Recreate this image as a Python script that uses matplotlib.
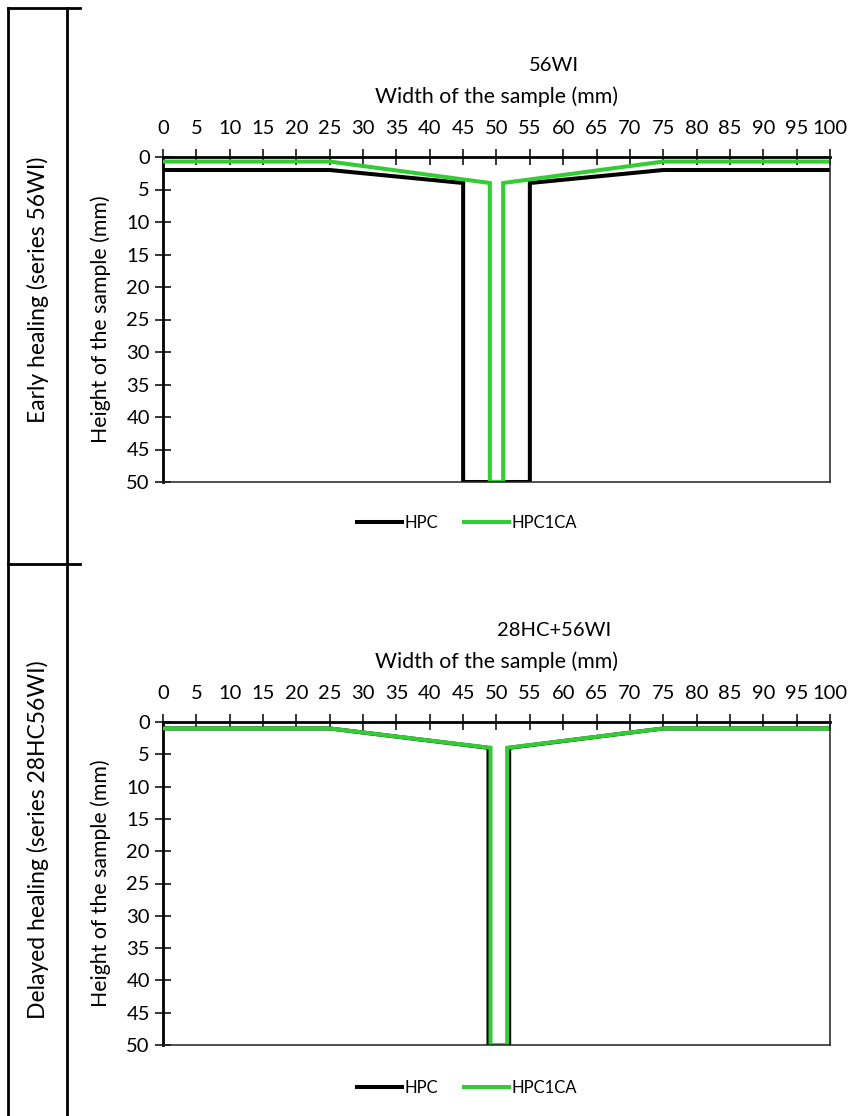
import matplotlib.pyplot as plt
from matplotlib.lines import Line2D
import numpy as np

plt.rcParams['font.family'] = ['Lato', 'DejaVu Sans']

# crack profiles (width position in mm, depth in mm)
hpc_56_x = [0, 25, 45, 45, 55, 55, 75, 100]
hpc_56_y = [2, 2, 4, 50, 50, 4, 2, 2]
hpc1ca_56_x = [0, 25, 49, 49, 51, 51, 75, 100]
hpc1ca_56_y = [0.7, 0.7, 4, 50, 50, 4, 0.7, 0.7]

hpc_28_x = [0, 25, 48.8, 48.8, 51.9, 51.9, 75, 100]
hpc_28_y = [1, 1, 4, 50, 50, 4, 1, 1]
hpc1ca_28_x = [0, 25, 49.1, 49.1, 51.6, 51.6, 75, 100]
hpc1ca_28_y = [1, 1, 4, 50, 50, 4, 1, 1]

titles = ['56WI', '28HC+56WI']
row_labels = ['Early healing (series 56WI)', 'Delayed healing (series 28HC56WI)']
x_ticks = list(range(0, 101, 5))
y_ticks = list(range(0, 51, 5))

W, H = 862, 1116
fig = plt.figure(figsize=(W / 100, H / 100), dpi=100)

green = '#33cc33'
fs = 14.5


def make_panel(rect, title, hx, hy, gx, gy, legend_y):
    ax = fig.add_axes(rect)
    ax.plot(hx, hy, color='black', lw=2.9, solid_joinstyle='miter', label='HPC')
    ax.plot(gx, gy, color=green, lw=2.9, solid_joinstyle='miter', label='HPC1CA')
    ax.set_xlim(0, 100)
    ax.set_ylim(50, 0)
    ax.set_xticks(x_ticks)
    ax.set_yticks(y_ticks)
    ax.xaxis.tick_top()
    ax.xaxis.set_label_position('top')
    ax.tick_params(axis='both', direction='inout', length=11, width=1.1,
                   labelsize=fs, color='black')
    ax.tick_params(axis='x', pad=9)
    ax.tick_params(axis='y', pad=4)
    for s in ['top', 'left']:
        ax.spines[s].set_linewidth(2.0)
        ax.spines[s].set_color('black')
        ax.spines[s].set_zorder(1)
    for s in ['bottom', 'right']:
        ax.spines[s].set_linewidth(1.1)
        ax.spines[s].set_color('#222222')
    ax.set_xlabel('Width of the sample (mm)', fontsize=15.3, labelpad=12)
    ax.set_ylabel('Height of the sample (mm)', fontsize=15.3, labelpad=11)
    ax.set_title(title, fontsize=14.5, pad=11, x=(554 - 163) / 667)
    fig.legend(*ax.get_legend_handles_labels(), loc='center',
               bbox_to_anchor=(467 / W, 1 - legend_y / H), ncol=2, frameon=False,
               fontsize=12, handlelength=2.7, columnspacing=1.5, handletextpad=0.2)
    return ax


left = 163 / W
width = 667 / W
make_panel([left, 1 - 482 / H, width, 325 / H], titles[0],
           hpc_56_x, hpc_56_y, hpc1ca_56_x, hpc1ca_56_y, 523)
make_panel([left, 1 - 1045 / H, width, 323 / H], titles[1],
           hpc_28_x, hpc_28_y, hpc1ca_28_x, hpc1ca_28_y, 1088)

# table frame around the row labels
frame_lw = 2.0
fig.add_artist(Line2D([8 / W, 8 / W], [0, 1 - 8 / H], color='black', lw=frame_lw))
fig.add_artist(Line2D([67 / W, 67 / W], [0, 1 - 8 / H], color='black', lw=frame_lw))
fig.add_artist(Line2D([8 / W, 80 / W], [1 - 8 / H, 1 - 8 / H], color='black', lw=frame_lw))
fig.add_artist(Line2D([8 / W, 80 / W], [1 - 564 / H, 1 - 564 / H], color='black', lw=frame_lw))

fig.text(38 / W, 1 - 290 / H, row_labels[0], rotation=90, ha='center', va='center', fontsize=16.5)
fig.text(38 / W, 1 - 840 / H, row_labels[1], rotation=90, ha='center', va='center', fontsize=16.5)

plt.savefig('out.png', dpi=100)
